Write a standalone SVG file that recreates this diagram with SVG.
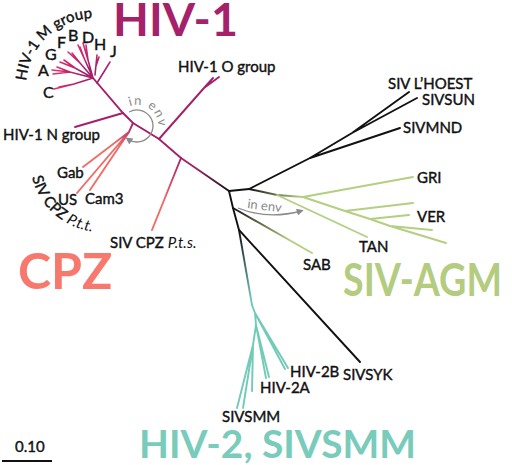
<svg xmlns="http://www.w3.org/2000/svg" width="512" height="465" viewBox="0 0 512 465">
<defs>
<style>
.t{font-family:Lato,"Liberation Sans",sans-serif;font-size:15px;fill:#111;stroke:#111;stroke-width:0.4px}
.m{font-size:16px}
.big{font-family:Lato,"Liberation Sans",sans-serif;font-weight:700}
.env{font-family:Lato,"Liberation Sans",sans-serif;font-size:13px;fill:#8a8a8a}
.k{stroke:#111;fill:none;stroke-width:1.9;stroke-linecap:round}
.mg{stroke:#a4206a;fill:none;stroke-width:1.9;stroke-linecap:round}
.gr{stroke:#b3cf80;fill:none;stroke-width:1.9;stroke-linecap:round}
.tl{stroke:#72cab9;fill:none;stroke-width:1.9;stroke-linecap:round}
.gd{fill:none;stroke-width:1.9;stroke-linecap:round}
.ar{stroke:#8a8a8a;fill:none;stroke-width:1.3}
</style>
<marker id="ah" viewBox="0 0 10 10" refX="6" refY="5" markerWidth="7" markerHeight="7" orient="auto" markerUnits="userSpaceOnUse">
<path d="M0,0 L10,5 L0,10 z" fill="#8a8a8a"/>
</marker>
<radialGradient id="gM" gradientUnits="userSpaceOnUse" cx="93" cy="78" r="45">
<stop offset="0.25" stop-color="#a4206a"/><stop offset="1" stop-color="#ee3370"/>
</radialGradient>
<linearGradient id="gRoot" gradientUnits="userSpaceOnUse" x1="229" y1="191" x2="195" y2="168">
<stop offset="0" stop-color="#111"/><stop offset="1" stop-color="#a4206a"/>
</linearGradient>
<linearGradient id="gPts" gradientUnits="userSpaceOnUse" x1="181" y1="158" x2="152" y2="230">
<stop offset="0" stop-color="#a4206a"/><stop offset="0.6" stop-color="#f26a66"/>
</linearGradient>
<linearGradient id="gPtt" gradientUnits="userSpaceOnUse" x1="133" y1="123" x2="90" y2="185">
<stop offset="0" stop-color="#a4206a"/><stop offset="0.35" stop-color="#f26a66"/>
</linearGradient>
<linearGradient id="gAgm" gradientUnits="userSpaceOnUse" x1="249" y1="189" x2="300" y2="197">
<stop offset="0" stop-color="#111"/><stop offset="1" stop-color="#b3cf80"/>
</linearGradient>
<linearGradient id="gSab" gradientUnits="userSpaceOnUse" x1="233" y1="208" x2="290" y2="240">
<stop offset="0" stop-color="#111"/><stop offset="1" stop-color="#b3cf80"/>
</linearGradient>
<linearGradient id="gTeal" gradientUnits="userSpaceOnUse" x1="239" y1="230" x2="250" y2="300">
<stop offset="0" stop-color="#111"/><stop offset="1" stop-color="#72cab9"/>
</linearGradient>
<path id="pM" d="M26.3,80.9 A68,68 0 0 1 105,19"/>
<path id="pPtt" d="M32.1,177.4 A72,72 0 0 0 112,231.5"/>
<path id="pEnv" d="M129.8,106.3 A21,21 0 0 1 158,130"/>
</defs>

<g id="connectors">
<path class="gd" stroke="url(#gRoot)" d="M229,191 L181,158"/>
<path class="mg" d="M181,158 L159,139 L133,123 L123,113 L93,78"/>
<path class="gd" stroke="url(#gPts)" d="M181,158 L152,230"/>
<path class="mg" d="M159,139 L204,88 L213,78 M204,88 L219,77"/>
<path class="mg" d="M123,113 L75,127"/>
<path class="gd" stroke="url(#gPtt)" d="M133,123 L129,132 L83,167 M129,132 L77,193 M129,132 L90,190"/>
<path stroke="url(#gM)" fill="none" stroke-width="1.6" stroke-linecap="round" d="M93,78 L74,84 L54,89 M74,84 L59,87 M93,78 L70,72 L52,70 M70,72 L53,74 M70,72 L57,67 M93,78 L75,68 L60,62 M75,68 L64,60 M93,78 L80,63 L68,52 M80,63 L72,53 M93,78 L84,58 L78,45 M84,58 L80,47 M93,78 L88,60 L83,43 M88,60 L86,45 M95,75 L97,55 M96,66 L99,57 M97,83 L110,62"/>
<path class="k" d="M229,191 L249,189 L310,158 L352,133 L409,92 M352,133 L417,98 M310,158 L400,128"/>
<path class="gd" stroke="url(#gAgm)" d="M249,189 L277,195 L303,197"/>
<path class="gr" d="M303,197 L413,177 M277,195 L367,237 M303,197 L345,211 L370,219 L390,226 L446,243 M345,211 L413,203 M370,219 L409,215 M390,226 L432,230"/>
<path class="k" d="M229,191 L233,208 L239,230 L360,362"/>
<path class="gd" stroke="url(#gSab)" d="M233,208 L312,253"/>
<path class="gd" stroke="url(#gTeal)" d="M239,230 L252,305"/>
<path class="tl" d="M252,305 L255,313 L288,368 M255,313 L285,369 M255,313 L256,325 L269,377 M256,325 L266,378 M256,325 L253,345 L252,391 M253,345 L243,408 M253,345 L237,408"/>
<path class="ar" marker-end="url(#ah)" d="M129.2,112 A16,16 0 1 1 127.8,139.1"/>
<path class="ar" marker-end="url(#ah)" d="M238,208 Q268,220 301,211"/>
<path stroke="#111" stroke-width="2" d="M2,461 L52,461"/>
</g>

<g id="clade-labels">
<text id="lbl-hiv1" class="big" x="113" y="36" font-size="46" textLength="125" lengthAdjust="spacingAndGlyphs" fill="#a5226b">HIV-1</text>
<text id="lbl-cpz" class="big" x="18" y="289" font-size="50" fill="#f7796e">CPZ</text>
<text id="lbl-agm" class="big" x="343" y="296" font-size="46" textLength="159" lengthAdjust="spacingAndGlyphs" fill="#b4cc80">SIV-AGM</text>
<text id="lbl-hiv2" class="big" x="139" y="458" font-size="39" textLength="277" lengthAdjust="spacingAndGlyphs" fill="#79cbbb">HIV-2, SIVSMM</text>
</g>

<g id="n-mgroup"><text class="t" font-size="14"><textPath href="#pM">HIV-1 M group</textPath></text></g>
<g id="n-C"><text class="t m" x="43" y="98">C</text></g>
<g id="n-A"><text class="t m" x="38" y="76">A</text></g>
<g id="n-G"><text class="t m" x="45" y="60">G</text></g>
<g id="n-F"><text class="t m" x="57" y="48">F</text></g>
<g id="n-B"><text class="t m" x="68" y="41">B</text></g>
<g id="n-D"><text class="t m" x="82" y="43">D</text></g>
<g id="n-H"><text class="t m" x="94" y="50">H</text></g>
<g id="n-J"><text class="t m" x="110" y="57">J</text></g>
<g id="n-O"><text class="t" x="178" y="72">HIV-1 O group</text></g>
<g id="n-N"><text class="t" x="3" y="140">HIV-1 N group</text></g>
<g id="n-Gab"><text class="t" x="57" y="178">Gab</text></g>
<g id="n-US"><text class="t" x="58" y="205">US</text></g>
<g id="n-Cam3"><text class="t" x="85" y="204">Cam3</text></g>
<g id="n-Ptt"><text class="t" font-size="14.5"><textPath href="#pPtt">SIV CPZ <tspan font-style="italic" stroke-width="0">P.t.t.</tspan></textPath></text></g>
<g id="n-Pts"><text class="t" x="110" y="248">SIV CPZ <tspan font-style="italic" stroke-width="0">P.t.s.</tspan></text></g>
<g id="n-LHOEST"><text class="t" x="388" y="89">SIV L’HOEST</text></g>
<g id="n-SUN"><text class="t" x="422" y="105">SIVSUN</text></g>
<g id="n-MND"><text class="t" x="403" y="133">SIVMND</text></g>
<g id="n-GRI"><text class="t" x="417" y="183">GRI</text></g>
<g id="n-VER"><text class="t" x="417" y="222">VER</text></g>
<g id="n-TAN"><text class="t" x="359" y="252">TAN</text></g>
<g id="n-SAB"><text class="t" x="303" y="270">SAB</text></g>
<g id="n-SYK"><text class="t" x="343" y="380">SIVSYK</text></g>
<g id="n-2B"><text class="t" x="290" y="377">HIV-2B</text></g>
<g id="n-2A"><text class="t" x="260" y="393">HIV-2A</text></g>
<g id="n-SMM"><text class="t" x="222" y="422">SIVSMM</text></g>
<g id="env-labels">
<text class="env" letter-spacing="1.3"><textPath href="#pEnv">in env</textPath></text>
<text class="env" x="247" y="208" transform="rotate(7 247 208)">in env</text>
</g>
<g id="scale"><text class="t" font-size="14" x="15" y="452">0.10</text></g>
</svg>
